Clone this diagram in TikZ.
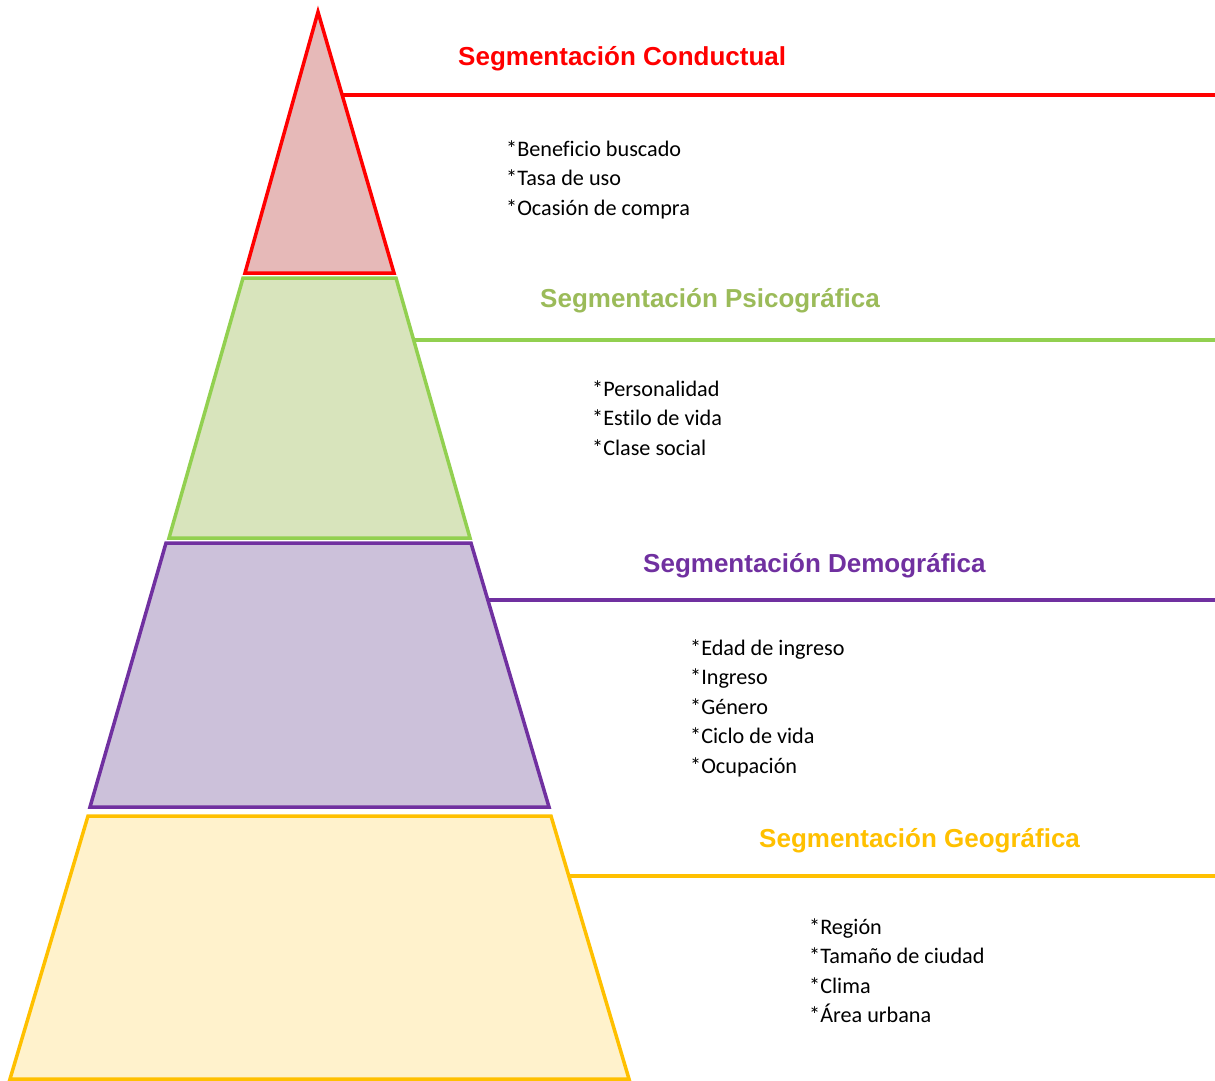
\documentclass[tikz,border=0pt]{standalone}
\usepackage{fontspec}
\setmainfont{Carlito}[Ligatures=NoCommon]
\newfontfamily\titlefont{Liberation Sans}
\usetikzlibrary{calc}
\definecolor{cred}{HTML}{FF0000}
\definecolor{credfill}{HTML}{E6B9B8}
\definecolor{cgreen}{HTML}{92D050}
\definecolor{cgreenfill}{HTML}{D8E4BC}
\definecolor{cgreentext}{HTML}{9BBB59}
\definecolor{cpurple}{HTML}{7030A0}
\definecolor{cpurplefill}{HTML}{CCC1DA}
\definecolor{cyellow}{HTML}{FFC000}
\definecolor{cyellowfill}{HTML}{FFF2CC}
\tikzset{
  level/.style={line width=3.5pt, line join=miter},
  leader/.style={line width=3.5pt},
  ttl/.style={anchor=base west, inner sep=0pt, font=\titlefont\bfseries\fontsize{26}{30}\selectfont},
  itm/.style={anchor=base west, inner sep=0pt, font=\fontsize{22.2}{27}\selectfont, text=black},
}
\begin{document}
\begin{tikzpicture}[x=1pt,y=-1pt]
\useasboundingbox (0,0) rectangle (1215,1081);
% levels
\draw[level, draw=cred, fill=credfill] (318,12) -- (394,273) -- (245,273) -- cycle;
\draw[level, draw=cgreen, fill=cgreenfill] (243,278) -- (396,278) -- (470,538) -- (169,538) -- cycle;
\draw[level, draw=cpurple, fill=cpurplefill] (166,543) -- (471,543) -- (549,807) -- (90,807) -- cycle;
\draw[level, draw=cyellow, fill=cyellowfill] (88,816) -- (551,816) -- (629,1079) -- (10,1079) -- cycle;
% leader coordinates
\coordinate (rA) at (342,95);   \coordinate (rB) at (1215,95);
\coordinate (gA) at (413,340);  \coordinate (gB) at (1215,340);
\coordinate (pA) at (488,600);  \coordinate (pB) at (1215,600);
\coordinate (yA) at (569,876);  \coordinate (yB) at (1215,876);
\draw[leader, draw=cred] (rA) -- (rB);
\draw[leader, draw=cgreen] (gA) -- (gB);
\draw[leader, draw=cpurple] (pA) -- (pB);
\draw[leader, draw=cyellow] (yA) -- (yB);
% titles
\node[ttl, text=cred] (t1) at (458,66) {Segmentación Conductual};
\node[ttl, text=cgreentext] (t2) at (540,307) {Segmentación Psicográfica};
\node[ttl, text=cpurple] (t3) at (643,572) {Segmentación Demográfica};
\node[ttl, text=cyellow] (t4) at (759,847) {Segmentación Geográfica};
% items
\node[itm] (c1) at (506,156) {*Beneficio buscado};
\node[itm] (c2) at (506,185.5) {*Tasa de uso};
\node[itm] (c3) at (506,215) {*Ocasión de compra};
\node[itm] (s1) at (592,396) {*Personalidad};
\node[itm] (s2) at (592,425.5) {*Estilo de vida};
\node[itm] (s3) at (592,455) {*Clase social};
\node[itm] (d1) at (690,655) {*Edad de ingreso};
\node[itm] (d2) at (690,684.5) {*Ingreso};
\node[itm] (d3) at (690,714) {*Género};
\node[itm] (d4) at (690,743.5) {*Ciclo de vida};
\node[itm] (d5) at (690,773) {*Ocupación};
\node[itm] (g1) at (809,934) {*Región};
\node[itm] (g2) at (809,963.5) {*Tamaño de ciudad};
\node[itm] (g3) at (809,993) {*Clima};
\node[itm] (g4) at (809,1022.5) {*Área urbana};
\end{tikzpicture}
\end{document}
